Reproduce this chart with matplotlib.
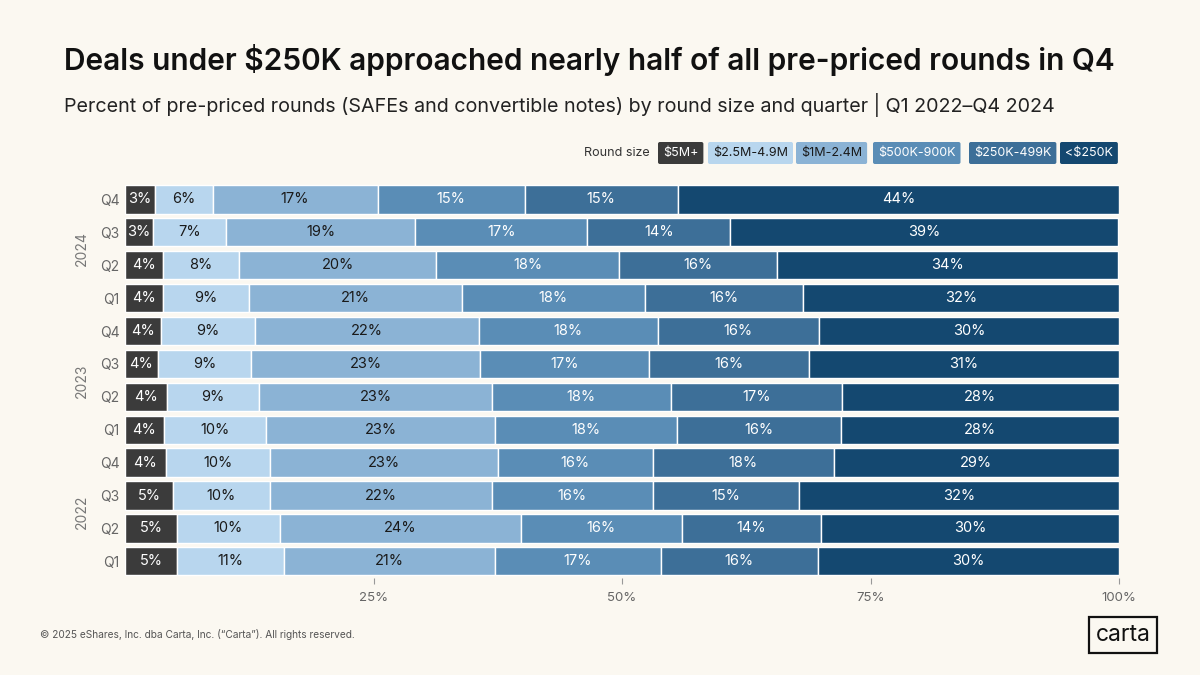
import matplotlib.pyplot as plt
import numpy as np

plt.rcParams['font.family'] = ['Inter', 'DejaVu Sans']

# rows from bottom (2022 Q1) to top (2024 Q4)
rows = ["Q1", "Q2", "Q3", "Q4", "Q1", "Q2", "Q3", "Q4", "Q1", "Q2", "Q3", "Q4"]
years = ["2022", "2023", "2024"]
sizes = ["$5M+", "$2.5M-4.9M", "$1M-2.4M", "$500K-900K", "$250K-499K", "<$250K"]
colors = ["#3b3b3b", "#b8d6ee", "#8bb3d5", "#5a8db6", "#3d6f98", "#144870"]
text_colors = ["white", "#1a1a1a", "#1a1a1a", "white", "white", "white"]

# widths (percent)
share_5m = [5.2, 5.2, 4.8, 4.1, 3.9, 4.2, 3.3, 3.6, 3.8, 3.8, 2.8, 3.0]
share_2_5m = [10.8, 10.4, 9.8, 10.5, 10.3, 9.3, 9.4, 9.5, 8.7, 7.7, 7.4, 5.8]
share_1m = [21.2, 24.2, 22.3, 22.9, 23.0, 23.4, 23.0, 22.5, 21.4, 19.8, 19.0, 16.6]
share_500k = [16.7, 16.2, 16.2, 15.6, 18.3, 18.0, 17.0, 18.0, 18.4, 18.4, 17.3, 14.8]
share_250k = [15.8, 14.0, 14.7, 18.2, 16.5, 17.2, 16.1, 16.2, 15.9, 15.9, 14.4, 15.4]
share_u250k = [30.3, 30.0, 32.2, 28.7, 28.0, 27.9, 31.2, 30.2, 31.8, 34.3, 39.0, 44.4]

# labels as printed on the chart
lab_5m = [5, 5, 5, 4, 4, 4, 4, 4, 4, 4, 3, 3]
lab_2_5m = [11, 10, 10, 10, 10, 9, 9, 9, 9, 8, 7, 6]
lab_1m = [21, 24, 22, 23, 23, 23, 23, 22, 21, 20, 19, 17]
lab_500k = [17, 16, 16, 16, 18, 18, 17, 18, 18, 18, 17, 15]
lab_250k = [16, 14, 15, 18, 16, 17, 16, 16, 16, 16, 14, 15]
lab_u250k = [30, 30, 32, 29, 28, 28, 31, 30, 32, 34, 39, 44]

shares = [share_5m, share_2_5m, share_1m, share_500k, share_250k, share_u250k]
labels = [lab_5m, lab_2_5m, lab_1m, lab_500k, lab_250k, lab_u250k]

bg = "#fbf8f1"
fig = plt.figure(figsize=(12, 6.75), dpi=100, facecolor=bg)
ax = fig.add_axes([0.1042, 0.144, 0.8283, 0.585], facecolor=bg)

y = np.arange(len(rows))
left = np.zeros(len(rows))
for vals, labs, c, tc in zip(shares, labels, colors, text_colors):
    vals = np.array(vals)
    ax.barh(y, vals, left=left, height=0.86, color=c, edgecolor="white", linewidth=1.0)
    for yi, (l, v, lab) in enumerate(zip(left, vals, labs)):
        ax.text(l + v / 2, yi, f"{lab}%", ha="center", va="center",
                color=tc, fontsize=10.5)
    left += vals

ax.set_xlim(0, 100)
ax.set_ylim(-0.5, len(rows) - 0.5)
ax.set_xticks([25, 50, 75, 100])
ax.set_xticklabels(["25%", "50%", "75%", "100%"])
ax.tick_params(axis="x", length=4, color="#999999", labelcolor="#666666",
               labelsize=9.5, pad=6)
ax.set_yticks(y)
ax.set_yticklabels(rows)
ax.tick_params(axis="y", length=0, labelcolor="#666666", labelsize=10, pad=4)
for s in ax.spines.values():
    s.set_visible(False)

for i, yr in enumerate(years):
    ax.text(-4.3, i * 4 + 1.5, yr, rotation=90, ha="center", va="center",
            color="#777777", fontsize=10, transform=ax.transData, clip_on=False)

fig.text(64 / 1200, 1 - 60 / 675, "Deals under $250K approached nearly half of all pre-priced rounds in Q4",
         fontsize=21.5, fontweight="semibold", color="#111111", va="center")
fig.text(64 / 1200, 1 - 105 / 675,
         "Percent of pre-priced rounds (SAFEs and convertible notes) by round size and quarter | Q1 2022\u2013Q4 2024",
         fontsize=14.2, color="#222222", va="center")

# legend chips
fig.text(650 / 1200, 1 - 153 / 675, "Round size", fontsize=9, color="#333333",
         ha="right", va="center")
chip_x = [663, 713, 801, 878, 974, 1065]
for x, name, c, tc in zip(chip_x, sizes, colors, text_colors):
    fig.text(x / 1200, 1 - 153 / 675, name, fontsize=9, color=tc, ha="left", va="center",
             bbox=dict(boxstyle="round,pad=0.4,rounding_size=0.15", facecolor=c, edgecolor="none"))

fig.text(40 / 1200, 1 - 635 / 675,
         "\u00a9 2025 eShares, Inc. dba Carta, Inc. (\u201cCarta\u201d). All rights reserved.",
         fontsize=7.3, color="#555555", va="center")
fig.text(1123 / 1200, 1 - 635 / 675, "carta", fontsize=16.5, color="#111111",
         ha="center", va="center",
         bbox=dict(boxstyle="square,pad=0.3", facecolor=bg, edgecolor="#111111", linewidth=1.6))

fig.savefig("out.png", dpi=100, facecolor=bg)
